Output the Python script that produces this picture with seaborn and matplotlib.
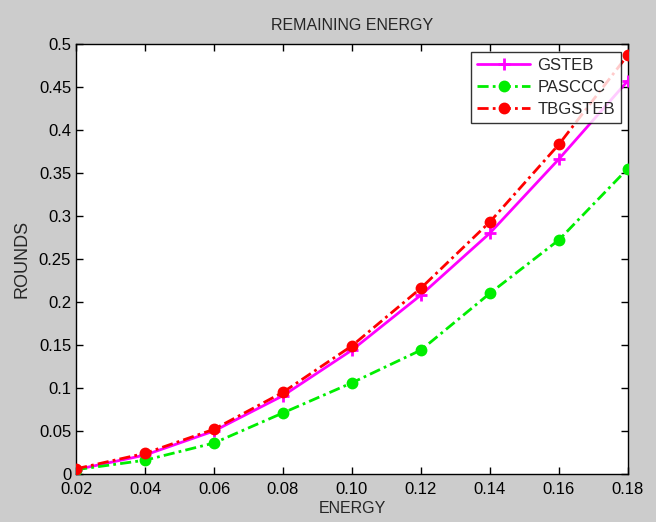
import matplotlib
matplotlib.use("Agg")
import matplotlib.pyplot as plt
import seaborn as sns
import pandas as pd

energy = [0.02, 0.04, 0.06, 0.08, 0.10, 0.12, 0.14, 0.16, 0.18]
gsteb = [0.005, 0.022, 0.050, 0.091, 0.144, 0.208, 0.280, 0.366, 0.457]
pasccc = [0.005, 0.016, 0.036, 0.071, 0.106, 0.144, 0.210, 0.272, 0.355]
tbgsteb = [0.006, 0.024, 0.052, 0.095, 0.149, 0.216, 0.293, 0.383, 0.487]
series_names = ["GSTEB", "PASCCC", "TBGSTEB"]
xtick_labels = ["0.02", "0.04", "0.06", "0.08", "0.10", "0.12", "0.14", "0.16", "0.18"]
yticks = [0, 0.05, 0.1, 0.15, 0.2, 0.25, 0.3, 0.35, 0.4, 0.45, 0.5]
ytick_labels = ["0", "0.05", "0.1", "0.15", "0.2", "0.25", "0.3", "0.35", "0.4", "0.45", "0.5"]

sns.set_style("white")
plt.rcParams["font.family"] = ["Liberation Sans", "DejaVu Sans"]

fig = plt.figure(figsize=(6.56, 5.22), dpi=100, facecolor="#cccccc")
ax = fig.add_axes([0.116, 0.092, 0.841, 0.824])
ax.set_facecolor("white")

colors = {"GSTEB": "#ff00ff", "PASCCC": "#00ee00", "TBGSTEB": "#ff0000"}
styles = {"GSTEB": "-", "PASCCC": (0, (4, 1.5, 1, 1.5)), "TBGSTEB": (0, (4, 1.5, 1, 1.5))}
markers = {"GSTEB": "+", "PASCCC": "o", "TBGSTEB": "o"}
msizes = {"GSTEB": 8, "PASCCC": 6.5, "TBGSTEB": 6.5}

for name, vals in zip(series_names, [gsteb, pasccc, tbgsteb]):
    d = pd.DataFrame({"ENERGY": energy, "ROUNDS": vals})
    sns.lineplot(data=d, x="ENERGY", y="ROUNDS", color=colors[name],
                 linestyle=styles[name], marker=markers[name],
                 markersize=msizes[name], markeredgewidth=2,
                 markeredgecolor=colors[name], markerfacecolor=colors[name],
                 linewidth=2, label=name, ax=ax, zorder=3)

ax.set_xlim(0.02, 0.18)
ax.set_ylim(0, 0.5)
ax.set_xticks(energy)
ax.set_xticklabels(xtick_labels)
ax.set_yticks(yticks)
ax.set_yticklabels(ytick_labels)
ax.tick_params(direction="in", length=5, width=1, top=True, right=True,
               bottom=True, left=True, labelsize=12, colors="black")
ax.tick_params(axis="y", pad=3.5)
ax.tick_params(axis="x", pad=5.5)
for sp in ax.spines.values():
    sp.set_visible(True)
    sp.set_color("black")
    sp.set_linewidth(1)

ax.set_title("REMAINING ENERGY", fontsize=11.5, pad=10)
ax.set_xlabel("ENERGY", fontsize=11.5, labelpad=3)
ax.set_ylabel("ROUNDS", fontsize=13, labelpad=6)

leg = ax.legend(loc="upper right", bbox_to_anchor=(0.987, 0.981), borderaxespad=0,
                fontsize=12, frameon=True, fancybox=False, edgecolor="black",
                handlelength=3.2, borderpad=0.35, labelspacing=0.42, handletextpad=0.4)
leg.get_frame().set_linewidth(1)

fig.savefig("out.png", dpi=100, facecolor=fig.get_facecolor())
